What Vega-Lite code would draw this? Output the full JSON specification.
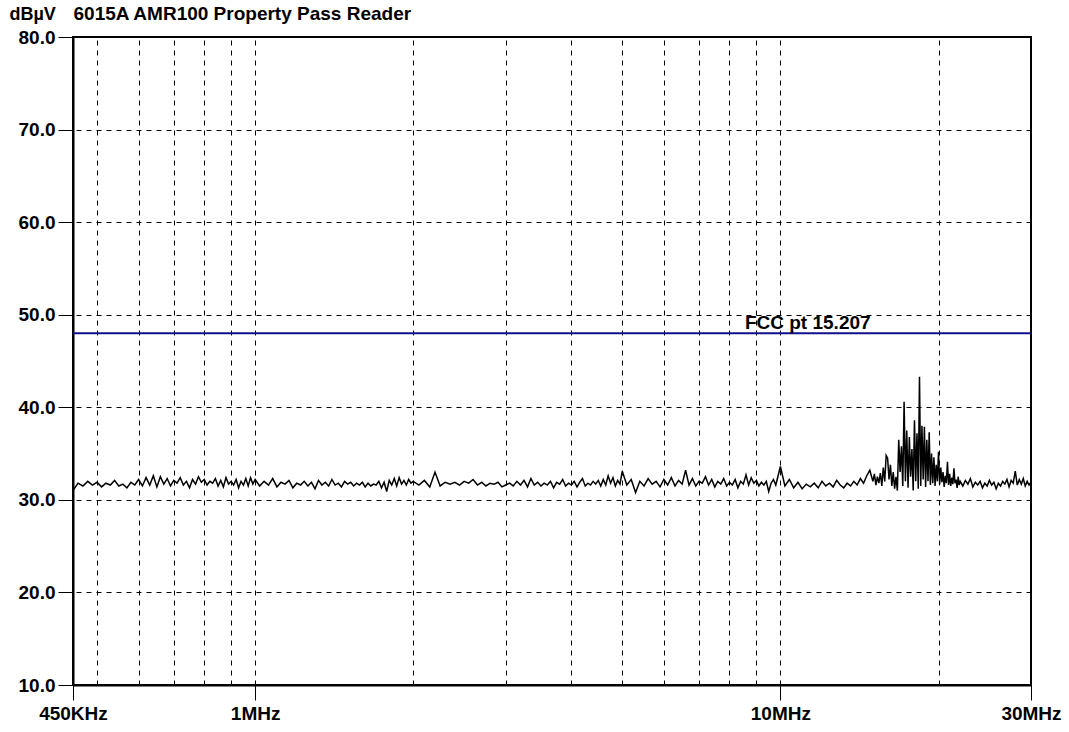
{
"$schema":"https://vega.github.io/schema/vega-lite/v6.json",
"width":958,"height":648,
"autosize":"none",
"padding":{"left":73,"top":37,"right":38,"bottom":47},
"background":"white",
"config":{"view":{"stroke":"black","strokeWidth":2},"font":"Liberation Sans"},
"datasets":{
"trace":[
{"f":0.45,"v":31.0},{"f":0.46,"v":31.8},{"f":0.47,"v":31.5},{"f":0.48,"v":32.0},{"f":0.49,"v":31.6},{"f":0.50,"v":31.9},{"f":0.51,"v":31.4},{"f":0.52,"v":31.8},{"f":0.53,"v":31.6},{"f":0.54,"v":32.1},{"f":0.55,"v":31.5},{"f":0.56,"v":31.7},{"f":0.57,"v":31.3},{"f":0.58,"v":31.9},{"f":0.59,"v":31.6},{"f":0.60,"v":32.2},{"f":0.61,"v":31.5},{"f":0.62,"v":32.4},{"f":0.63,"v":31.6},{"f":0.64,"v":32.6},{"f":0.65,"v":31.4},{"f":0.66,"v":32.5},{"f":0.67,"v":31.7},{"f":0.68,"v":32.3},{"f":0.69,"v":31.5},{"f":0.70,"v":32.1},{"f":0.71,"v":31.8},{"f":0.72,"v":32.4},{"f":0.73,"v":31.6},{"f":0.74,"v":32.0},{"f":0.75,"v":31.3},{"f":0.76,"v":32.2},{"f":0.77,"v":31.7},{"f":0.78,"v":32.5},{"f":0.79,"v":31.9},{"f":0.80,"v":32.2},{"f":0.81,"v":31.6},{"f":0.82,"v":32.0},{"f":0.83,"v":31.8},{"f":0.84,"v":32.3},{"f":0.85,"v":31.5},{"f":0.86,"v":32.1},{"f":0.87,"v":31.4},{"f":0.88,"v":32.4},{"f":0.89,"v":31.7},{"f":0.90,"v":32.0},{"f":0.91,"v":31.6},{"f":0.92,"v":32.2},{"f":0.93,"v":31.3},{"f":0.94,"v":32.0},{"f":0.95,"v":31.6},{"f":0.96,"v":32.3},{"f":0.97,"v":31.5},{"f":0.98,"v":32.4},{"f":0.99,"v":31.7},
{"f":1.00,"v":32.2},{"f":1.02,"v":31.5},{"f":1.04,"v":32.0},{"f":1.06,"v":31.6},{"f":1.08,"v":32.3},{"f":1.10,"v":31.4},{"f":1.12,"v":31.9},{"f":1.14,"v":31.7},{"f":1.16,"v":32.1},{"f":1.18,"v":31.3},{"f":1.20,"v":31.8},{"f":1.22,"v":31.6},{"f":1.24,"v":32.0},{"f":1.26,"v":31.5},{"f":1.28,"v":31.9},{"f":1.30,"v":31.2},{"f":1.32,"v":32.1},{"f":1.34,"v":31.6},{"f":1.36,"v":31.9},{"f":1.38,"v":31.5},{"f":1.40,"v":32.2},{"f":1.42,"v":31.6},{"f":1.44,"v":31.8},{"f":1.46,"v":31.4},{"f":1.48,"v":32.0},{"f":1.50,"v":31.7},{"f":1.52,"v":31.9},{"f":1.54,"v":31.5},{"f":1.56,"v":31.8},{"f":1.58,"v":31.6},{"f":1.60,"v":31.9},{"f":1.62,"v":31.4},{"f":1.64,"v":31.8},{"f":1.66,"v":31.5},{"f":1.68,"v":31.7},{"f":1.70,"v":31.6},{"f":1.72,"v":32.0},{"f":1.74,"v":31.3},{"f":1.76,"v":31.9},{"f":1.78,"v":30.9},{"f":1.80,"v":32.1},{"f":1.82,"v":31.6},{"f":1.84,"v":32.3},{"f":1.86,"v":31.5},{"f":1.88,"v":32.4},{"f":1.90,"v":31.7},{"f":1.92,"v":32.1},{"f":1.94,"v":31.6},{"f":1.96,"v":32.2},{"f":1.98,"v":31.8},
{"f":2.00,"v":32.0},{"f":2.05,"v":31.6},{"f":2.10,"v":32.1},{"f":2.15,"v":31.4},{"f":2.20,"v":33.0},{"f":2.25,"v":31.5},{"f":2.30,"v":31.9},{"f":2.35,"v":31.7},{"f":2.40,"v":31.9},{"f":2.45,"v":31.6},{"f":2.50,"v":32.0},{"f":2.55,"v":31.8},{"f":2.60,"v":32.2},{"f":2.65,"v":31.6},{"f":2.70,"v":31.9},{"f":2.75,"v":31.5},{"f":2.80,"v":31.8},{"f":2.85,"v":31.7},{"f":2.90,"v":31.9},{"f":2.95,"v":31.4},{"f":3.00,"v":31.6},{"f":3.05,"v":31.8},{"f":3.10,"v":31.5},{"f":3.15,"v":32.0},{"f":3.20,"v":31.6},{"f":3.25,"v":32.1},{"f":3.30,"v":31.4},{"f":3.35,"v":32.3},{"f":3.40,"v":31.6},{"f":3.45,"v":31.9},{"f":3.50,"v":31.5},{"f":3.55,"v":31.8},{"f":3.60,"v":31.6},{"f":3.65,"v":32.0},{"f":3.70,"v":31.3},{"f":3.75,"v":31.9},{"f":3.80,"v":31.7},{"f":3.85,"v":32.2},{"f":3.90,"v":31.5},{"f":3.95,"v":31.8},{"f":4.00,"v":31.6},{"f":4.05,"v":32.0},{"f":4.10,"v":31.4},{"f":4.15,"v":31.9},{"f":4.20,"v":32.3},{"f":4.25,"v":31.5},{"f":4.30,"v":31.8},{"f":4.35,"v":31.6},{"f":4.40,"v":32.0},{"f":4.45,"v":31.7},{"f":4.50,"v":32.1},{"f":4.55,"v":31.5},{"f":4.60,"v":32.2},{"f":4.65,"v":31.6},{"f":4.70,"v":32.6},{"f":4.75,"v":31.8},{"f":4.80,"v":32.4},{"f":4.85,"v":31.5},{"f":4.90,"v":32.1},{"f":4.95,"v":31.7},
{"f":5.0,"v":33.1},{"f":5.1,"v":31.6},{"f":5.2,"v":32.2},{"f":5.3,"v":30.8},{"f":5.4,"v":32.0},{"f":5.5,"v":31.5},{"f":5.6,"v":32.3},{"f":5.7,"v":31.7},{"f":5.8,"v":32.0},{"f":5.9,"v":31.4},{"f":6.0,"v":32.2},{"f":6.1,"v":31.6},{"f":6.2,"v":32.4},{"f":6.3,"v":31.5},{"f":6.4,"v":32.1},{"f":6.5,"v":31.7},{"f":6.6,"v":33.2},{"f":6.7,"v":31.6},{"f":6.8,"v":32.3},{"f":6.9,"v":31.5},{"f":7.0,"v":32.0},{"f":7.1,"v":31.8},{"f":7.2,"v":32.5},{"f":7.3,"v":31.6},{"f":7.4,"v":32.2},{"f":7.5,"v":31.4},{"f":7.6,"v":32.0},{"f":7.7,"v":31.7},{"f":7.8,"v":32.3},{"f":7.9,"v":31.5},{"f":8.0,"v":31.9},{"f":8.1,"v":31.6},{"f":8.2,"v":32.2},{"f":8.3,"v":31.3},{"f":8.4,"v":32.0},{"f":8.5,"v":31.7},{"f":8.6,"v":32.7},{"f":8.7,"v":31.6},{"f":8.8,"v":32.4},{"f":8.9,"v":31.8},{"f":9.0,"v":32.1},{"f":9.1,"v":31.5},{"f":9.2,"v":31.9},{"f":9.3,"v":31.6},{"f":9.4,"v":32.0},{"f":9.5,"v":30.9},{"f":9.6,"v":31.8},{"f":9.7,"v":32.2},{"f":9.8,"v":31.6},{"f":9.9,"v":32.6},
{"f":10.0,"v":33.6},{"f":10.2,"v":31.5},{"f":10.4,"v":32.2},{"f":10.6,"v":31.3},{"f":10.8,"v":31.9},{"f":11.0,"v":31.2},{"f":11.2,"v":31.7},{"f":11.4,"v":31.4},{"f":11.6,"v":31.8},{"f":11.8,"v":31.3},{"f":12.0,"v":32.0},{"f":12.2,"v":31.5},{"f":12.4,"v":31.8},{"f":12.6,"v":31.4},{"f":12.8,"v":32.1},{"f":13.0,"v":31.6},{"f":13.2,"v":31.3},{"f":13.4,"v":31.8},{"f":13.6,"v":31.5},{"f":13.8,"v":32.0},{"f":14.0,"v":31.6},{"f":14.2,"v":32.3},{"f":14.4,"v":31.8},{"f":14.6,"v":32.6},{"f":14.8,"v":33.2},
{"f":15.0,"v":32.0},{"f":15.1,"v":32.8},{"f":15.2,"v":31.6},{"f":15.3,"v":32.5},{"f":15.4,"v":31.8},{"f":15.5,"v":32.9},{"f":15.6,"v":31.5},{"f":15.7,"v":33.5},{"f":15.8,"v":32.0},{"f":15.9,"v":34.8},{"f":16.0,"v":34.5},{"f":16.1,"v":32.2},{"f":16.2,"v":33.8},{"f":16.3,"v":31.5},{"f":16.4,"v":33.0},{"f":16.5,"v":31.2},{"f":16.6,"v":32.5},{"f":16.7,"v":31.0},{"f":16.8,"v":36.5},{"f":16.9,"v":33.0},{"f":17.0,"v":35.8},{"f":17.1,"v":31.5},{"f":17.2,"v":40.6},{"f":17.3,"v":32.0},{"f":17.4,"v":37.5},{"f":17.5,"v":31.3},{"f":17.6,"v":36.8},{"f":17.7,"v":32.5},{"f":17.8,"v":35.5},{"f":17.9,"v":31.0},{"f":18.0,"v":38.6},{"f":18.1,"v":32.0},{"f":18.2,"v":37.2},{"f":18.3,"v":31.2},{"f":18.4,"v":43.3},{"f":18.5,"v":31.5},{"f":18.6,"v":38.0},{"f":18.7,"v":32.2},{"f":18.8,"v":37.9},{"f":18.9,"v":31.4},{"f":19.0,"v":36.5},{"f":19.1,"v":32.0},{"f":19.2,"v":37.3},{"f":19.3,"v":31.6},{"f":19.4,"v":35.0},{"f":19.5,"v":31.8},{"f":19.6,"v":34.6},{"f":19.7,"v":31.5},{"f":19.8,"v":33.8},{"f":19.9,"v":32.0},{"f":20.0,"v":35.2},{"f":20.1,"v":31.7},{"f":20.2,"v":33.5},{"f":20.3,"v":31.9},{"f":20.4,"v":33.0},{"f":20.5,"v":31.4},{"f":20.6,"v":32.6},{"f":20.7,"v":31.8},{"f":20.8,"v":34.1},{"f":20.9,"v":31.6},{"f":21.0,"v":32.8},{"f":21.1,"v":31.5},{"f":21.2,"v":32.4},{"f":21.3,"v":31.7},{"f":21.4,"v":33.4},{"f":21.5,"v":31.8},{"f":21.6,"v":32.2},{"f":21.7,"v":31.3},{"f":21.8,"v":32.5},{"f":21.9,"v":31.6},{"f":22.0,"v":32.0},
{"f":22.25,"v":31.5},{"f":22.5,"v":32.1},{"f":22.75,"v":31.7},{"f":23.0,"v":32.3},{"f":23.25,"v":31.4},{"f":23.5,"v":31.9},{"f":23.75,"v":31.6},{"f":24.0,"v":32.0},{"f":24.25,"v":31.3},{"f":24.5,"v":31.8},{"f":24.75,"v":31.5},{"f":25.0,"v":32.1},{"f":25.25,"v":31.6},{"f":25.5,"v":31.9},{"f":25.75,"v":31.2},{"f":26.0,"v":31.8},{"f":26.25,"v":31.5},{"f":26.5,"v":32.0},{"f":26.75,"v":31.7},{"f":27.0,"v":32.2},{"f":27.25,"v":31.4},{"f":27.5,"v":32.1},{"f":27.75,"v":31.8},{"f":28.0,"v":33.1},{"f":28.25,"v":31.6},{"f":28.5,"v":32.2},{"f":28.75,"v":31.7},{"f":29.0,"v":32.3},{"f":29.25,"v":31.5},{"f":29.5,"v":32.0},{"f":29.75,"v":31.6},{"f":30.0,"v":31.9}
],
"limit":[{"f":8.56,"v":48,"label":"FCC pt 15.207"}]
},
"layer":[
{
"data":{"name":"trace"},
"mark":{"type":"line","color":"black","strokeWidth":1.5,"clip":true},
"encoding":{
"x":{"field":"f","type":"quantitative","scale":{"type":"log","domain":[0.45,30],"nice":false},
"axis":{"values":[0.45,1,10,30],"grid":false,"title":null,"labelExpr":"datum.value==0.45?'450KHz':datum.value+'MHz'","labelFlush":false,"labelOverlap":false,"labelBound":false,"labelFont":"Liberation Sans","labelFontSize":19,"labelFontWeight":"bold","labelColor":"black","labelPadding":4,"tickSize":15,"tickColor":"black","tickWidth":1,"domainColor":"black","domainWidth":2}},
"y":{"field":"v","type":"quantitative","scale":{"domain":[10,80],"nice":false,"zero":false},
"axis":{"values":[10,20,30,40,50,60,70,80],"format":".1f","grid":false,"title":"dBµV","titleAngle":0,"titleX":-64,"titleY":-18,"titleAlign":"left","titleBaseline":"alphabetic","titleFont":"Liberation Sans","titleFontSize":18,"titleFontWeight":"bold","titleColor":"black","labelFont":"Liberation Sans","labelFontSize":19,"labelFontWeight":"bold","labelColor":"black","labelPadding":3,"tickSize":15,"tickColor":"black","tickWidth":1,"domainColor":"black","domainWidth":2,"labelOverlap":false,"labelBound":false,"labelFlush":false}}
}
},
{
"data":{"name":"limit"},
"mark":{"type":"rule","color":"#10108a","strokeWidth":2},
"encoding":{
"y":{"field":"v","type":"quantitative","axis":{"orient":"right","values":[20,30,40,50,60,70],"grid":true,"gridColor":"black","gridDash":[5,5],"gridWidth":1,"gridOpacity":1,"labels":false,"ticks":false,"domain":false,"title":null}},
"x":{"datum":0.45,"type":"quantitative","axis":{"orient":"top","values":[0.5,0.6,0.7,0.8,0.9,1,2,3,4,5,6,7,8,9,10,20],"grid":true,"gridColor":"black","gridDash":[5,5],"gridWidth":1,"gridOpacity":1,"labels":false,"ticks":false,"domain":false,"title":"6015A AMR100 Property Pass Reader","titleAngle":0,"titleX":0,"titleY":-18,"titleAlign":"left","titleBaseline":"alphabetic","titleFont":"Liberation Sans","titleFontSize":19,"titleFontWeight":"bold","titleColor":"black"}},
"x2":{"datum":30}
}
},
{
"data":{"name":"limit"},
"mark":{"type":"text","align":"left","baseline":"alphabetic","dy":-4,"font":"Liberation Sans","fontSize":19,"fontWeight":"bold","color":"black"},
"encoding":{
"x":{"field":"f","type":"quantitative","axis":null},
"y":{"field":"v","type":"quantitative","axis":null},
"text":{"field":"label"}
}
}
],
"resolve":{"axis":{"x":"independent","y":"independent"}}
}
